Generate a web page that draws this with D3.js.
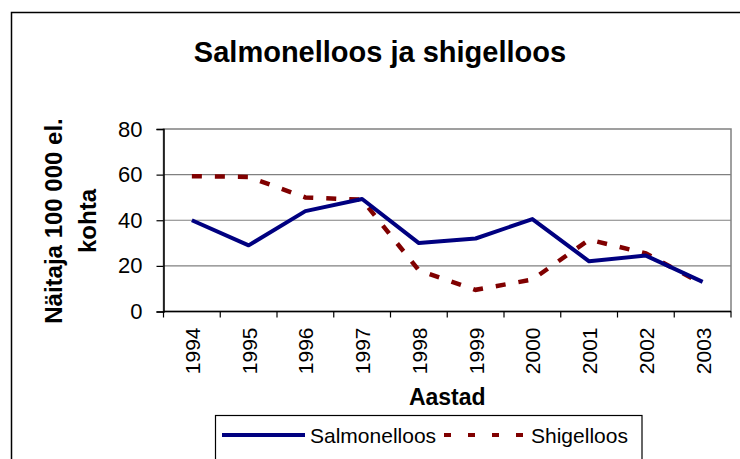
<html>
<head>
    <meta charset="utf-8">
    <style>
        body { margin: 0; background: #fff; }
        text { font-family: Arial, "Liberation Sans", sans-serif; }
    </style>
</head>
<body>
<script src="https://cdn.jsdelivr.net/npm/d3@7"></script>
<script>
    var years = ["1994","1995","1996","1997","1998","1999","2000","2001","2002","2003"];
    var salmonelloos = [40, 29, 44, 49.3, 30, 32, 40.5, 22, 24.5, 13];
    var shigelloos = [59.3, 59, 50, 49, 18, 9.5, 14, 31.5, 25.5, 12];
    var yTicks = [0, 20, 40, 60, 80];
    var seriesNames = ["Salmonelloos", "Shigelloos"];

    var width = 740, height = 459;
    var svg = d3.select("body")
                .append("svg")
                .attr("width", width)
                .attr("height", height);

    // outer chart frame
    svg.append("rect")
       .attr("x", 11.5).attr("y", 12.5)
       .attr("width", 760).attr("height", 480)
       .attr("fill", "#fff").attr("stroke", "#000").attr("stroke-width", 1.5);

    svg.append("text")
       .attr("x", 380).attr("y", 61.5)
       .attr("text-anchor", "middle")
       .attr("font-size", 29).attr("font-weight", "bold")
       .text("Salmonelloos ja shigelloos");

    var pLeft = 163.5, pRight = 731, pTop = 129, pBottom = 311.5;
    var x = d3.scaleBand().domain(years).range([pLeft, pRight]);
    var y = d3.scaleLinear().domain([0, 80]).range([pBottom, pTop]);

    // plot area border (grey)
    svg.append("rect")
       .attr("x", pLeft).attr("y", pTop)
       .attr("width", pRight - pLeft).attr("height", pBottom - pTop)
       .attr("fill", "none").attr("stroke", "#808080").attr("stroke-width", 1.5);

    // gridlines
    svg.append("g").selectAll("line")
       .data(yTicks.slice(1, -1))
       .join("line")
       .attr("x1", pLeft).attr("x2", pRight)
       .attr("y1", d => y(d)).attr("y2", d => y(d))
       .attr("stroke", "#808080").attr("stroke-width", 1.2);

    // y axis
    var yAxis = svg.append("g")
       .attr("transform", "translate(" + pLeft + ",0)")
       .call(d3.axisLeft(y).tickValues(yTicks).tickSize(7).tickPadding(14));
    yAxis.select(".domain").attr("stroke", "#000").attr("stroke-width", 1.5);
    yAxis.selectAll(".tick line").attr("stroke", "#000").attr("stroke-width", 1.2);
    yAxis.selectAll("text").attr("font-size", 22).attr("fill", "#000")
         .attr("font-family", "Arial, 'Liberation Sans', sans-serif");

    // x axis: ticks on category boundaries
    var xAxis = svg.append("g")
       .attr("transform", "translate(0," + pBottom + ")");
    xAxis.append("line")
       .attr("x1", pLeft).attr("x2", pRight)
       .attr("stroke", "#000").attr("stroke-width", 1.5);
    xAxis.selectAll("line.tk")
       .data(years.concat(["end"]))
       .join("line")
       .attr("class", "tk")
       .attr("x1", (d, i) => pLeft + i * x.bandwidth())
       .attr("x2", (d, i) => pLeft + i * x.bandwidth())
       .attr("y1", 0).attr("y2", 6)
       .attr("stroke", "#000").attr("stroke-width", 1.2);
    xAxis.selectAll("text")
       .data(years)
       .join("text")
       .attr("transform", d => "translate(" + (x(d) + x.bandwidth() / 2 + 8) + ",16) rotate(-90)")
       .attr("text-anchor", "end")
       .attr("font-size", 21)
       .text(d => d);

    svg.append("text")
       .attr("x", (pLeft + pRight) / 2).attr("y", 405)
       .attr("text-anchor", "middle")
       .attr("font-size", 23).attr("font-weight", "bold")
       .text("Aastad");

    // y axis title, two lines
    var yt = svg.append("text")
       .attr("transform", "translate(62,221) rotate(-90)")
       .attr("text-anchor", "middle")
       .attr("font-size", 24).attr("font-weight", "bold");
    yt.append("tspan").attr("x", 0).attr("y", 0).text("Näitaja 100 000 el.");
    yt.append("tspan").attr("x", 0).attr("y", 34).text("kohta");

    var line = d3.line()
                 .x((d, i) => x(years[i]) + x.bandwidth() / 2)
                 .y(d => y(d));

    svg.append("path")
       .attr("d", line(shigelloos))
       .attr("fill", "none").attr("stroke", "#800000")
       .attr("stroke-width", 4.5).attr("stroke-dasharray", "10,13");
    svg.append("path")
       .attr("d", line(salmonelloos))
       .attr("fill", "none").attr("stroke", "#000080")
       .attr("stroke-width", 4).attr("stroke-linejoin", "round");

    // legend
    var lg = svg.append("g");
    lg.append("rect")
      .attr("x", 215.5).attr("y", 415.5)
      .attr("width", 426.5).attr("height", 60)
      .attr("fill", "#fff").attr("stroke", "#000").attr("stroke-width", 1.2);
    lg.append("line")
      .attr("x1", 222).attr("x2", 305).attr("y1", 435).attr("y2", 435)
      .attr("stroke", "#000080").attr("stroke-width", 4);
    lg.append("text")
      .attr("x", 310).attr("y", 443)
      .attr("font-size", 21)
      .text(seriesNames[0]);
    lg.append("line")
      .attr("x1", 444).attr("x2", 524).attr("y1", 435).attr("y2", 435)
      .attr("stroke", "#800000").attr("stroke-width", 4).attr("stroke-dasharray", "7,17");
    lg.append("text")
      .attr("x", 531).attr("y", 443)
      .attr("font-size", 21)
      .text(seriesNames[1]);
</script>
</body>
</html>
